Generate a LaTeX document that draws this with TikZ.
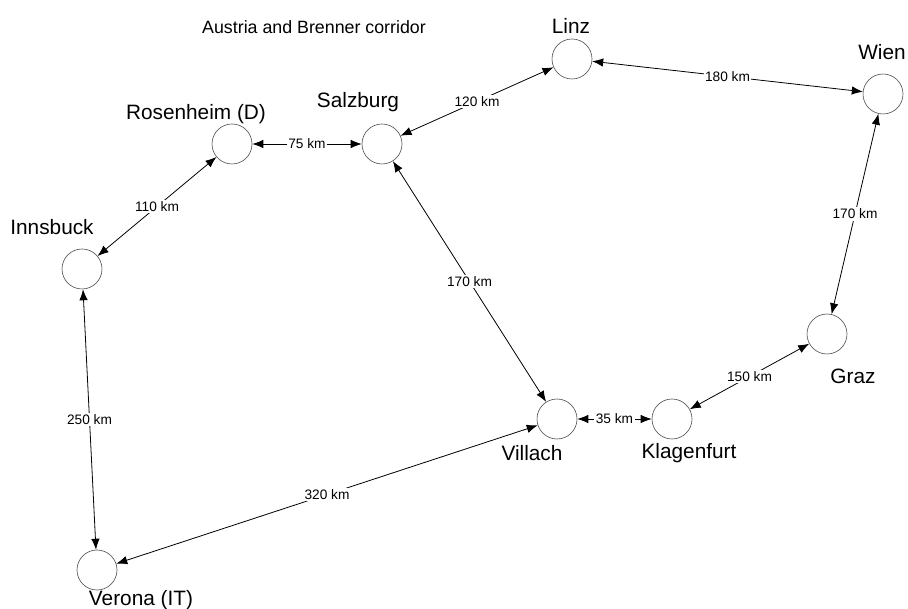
\documentclass[tikz,border=0pt]{standalone}
\usepackage{fontspec}
\setmainfont{Liberation Sans}
\usetikzlibrary{arrows.meta}
\tikzset{
	city/.style={circle, draw=black!70, line width=0.6pt, minimum size=40pt, inner sep=0pt},
	cityname/.style={font=\fontsize{20.8}{24}\selectfont, inner sep=0pt},
	road/.style={{Latex[length=11pt,width=8.5pt]}-{Latex[length=11pt,width=8.5pt]}, line width=0.8pt},
	dist/.style={midway, fill=white, inner sep=1.5pt, font=\fontsize{13.7}{16}\selectfont}
}

\begin{document}
\begin{tikzpicture}[x=1pt,y=-1pt]
			%%%%% START %%%%%
			\useasboundingbox (0,0) rectangle (908,609);
			
			\node[font=\fontsize{17.8}{20}\selectfont] (title) at (314,27) {Austria and Brenner corridor};
			
			% cities
			\node[city] (rosenheim) at (232,144) {};
			\node[city] (salzburg) at (382,144) {};
			\node[city] (linz) at (572,59) {};
			\node[city] (wien) at (883,94) {};
			\node[city] (innsbuck) at (82,269) {};
			\node[city] (graz) at (827,334) {};
			\node[city] (klagenfurt) at (672,419) {};
			\node[city] (villach) at (557,419) {};
			\node[city] (verona) at (97,570) {};
			
			% names
			\node[cityname] (rosenheimtxt) at (196,114) {Rosenheim (D)};
			\node[cityname] (salzburgtxt) at (358,102) {Salzburg};
			\node[cityname] (linztxt) at (571,26) {Linz};
			\node[cityname] (wientxt) at (882,52) {Wien};
			\node[cityname] (innsbucktxt) at (52,227) {Innsbuck};
			\node[cityname] (graztxt) at (853,376) {Graz};
			\node[cityname] (klagenfurttxt) at (689,453) {Klagenfurt};
			\node[cityname] (villachtxt) at (532,453) {Villach};
			\node[cityname] (veronatxt) at (141,600) {Verona (IT)};
			
			% roads
			\draw[road] (rosenheim) -- node[dist] {75 km} (salzburg);
			\draw[road] (salzburg) -- node[dist] {120 km} (linz);
			\draw[road] (linz) -- node[dist] {180 km} (wien);
			\draw[road] (innsbuck) -- node[dist] {110 km} (rosenheim);
			\draw[road] (salzburg) -- node[dist] {170 km} (villach);
			\draw[road] (wien) -- node[dist] {170 km} (graz);
			\draw[road] (graz) -- node[dist] {150 km} (klagenfurt);
			\draw[road] (villach) -- node[dist] {35 km} (klagenfurt);
			\draw[road] (innsbuck) -- node[dist] {250 km} (verona);
			\draw[road] (villach) -- node[dist] {320 km} (verona);
			
			%%%%% END %%%%%
\end{tikzpicture}
\end{document}
